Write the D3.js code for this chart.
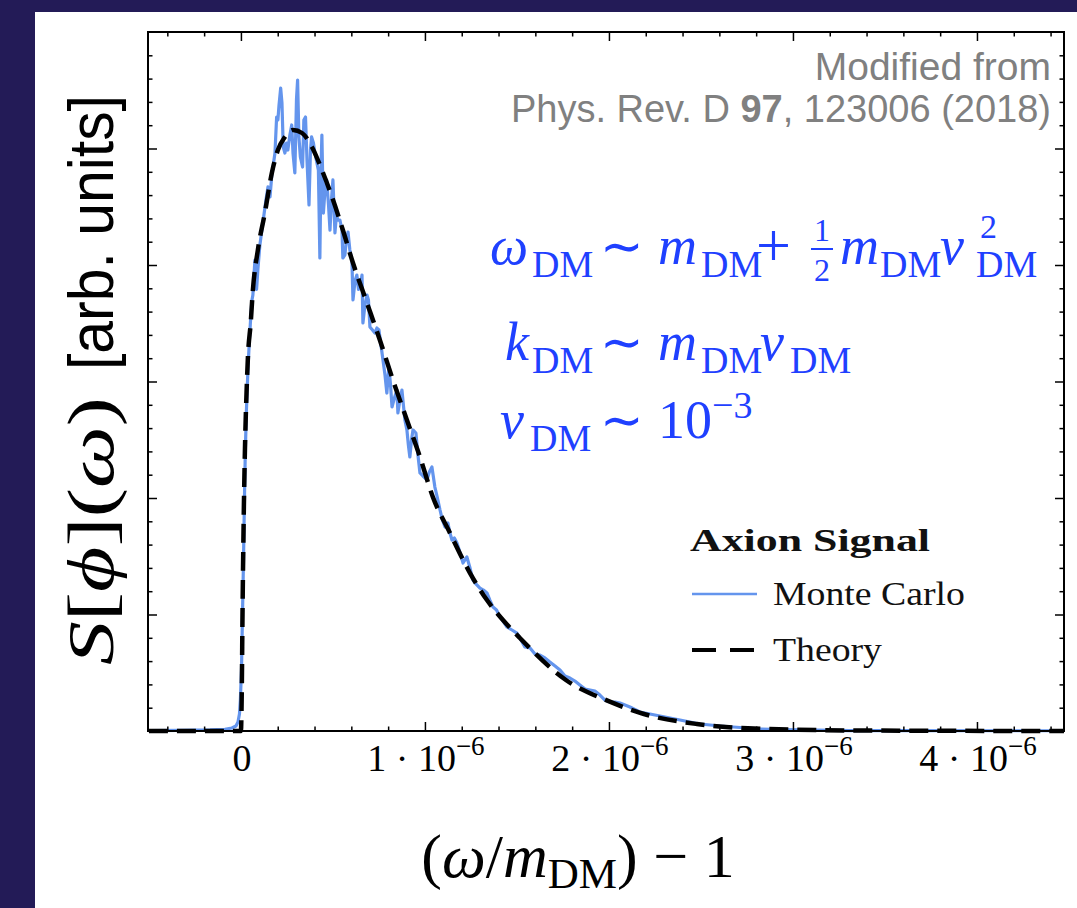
<!DOCTYPE html>
<html><head><meta charset="utf-8">
<script src="https://cdn.jsdelivr.net/npm/d3@7"></script>
<style>body{margin:0;background:#fff}svg{display:block}</style>
</head><body>
<svg id="chart" width="1077" height="908"></svg>
<script>
// ---- data (x in units of 1e-6, y in arbitrary units) ----
const mcX = [-0.5,-0.332,-0.168,-0.087,-0.049,-0.027,-0.016,-0.008,-0.003,0.003,0.008,0.014,0.019,0.024,0.030,0.038,0.046,0.054,0.060,0.065,0.071,0.076,0.085,0.092,0.103,0.114,0.125,0.136,0.147,0.158,0.168,0.185,0.194,0.201,0.207,0.216,0.223,0.230,0.239,0.248,0.255,0.266,0.276,0.283,0.293,0.302,0.308,0.315,0.323,0.335,0.342,0.351,0.359,0.370,0.378,0.384,0.394,0.402,0.413,0.421,0.429,0.435,0.440,0.448,0.457,0.466,0.476,0.484,0.492,0.500,0.511,0.519,0.527,0.538,0.549,0.554,0.565,0.573,0.582,0.592,0.603,0.609,0.620,0.630,0.639,0.647,0.658,0.663,0.674,0.685,0.693,0.701,0.715,0.728,0.739,0.750,0.761,0.772,0.783,0.793,0.804,0.813,0.821,0.834,0.848,0.853,0.864,0.875,0.883,0.891,0.902,0.910,0.918,0.927,0.935,0.951,0.962,0.973,0.989,1.011,1.024,1.038,1.054,1.068,1.082,1.095,1.109,1.125,1.136,1.147,1.160,1.174,1.190,1.207,1.228,1.245,1.261,1.277,1.299,1.318,1.337,1.353,1.370,1.389,1.408,1.427,1.446,1.473,1.500,1.522,1.543,1.571,1.598,1.625,1.652,1.679,1.707,1.734,1.761,1.788,1.815,1.842,1.870,1.897,1.924,1.951,1.978,2.005,2.033,2.060,2.087,2.114,2.168,2.223,2.277,2.332,2.386,2.440,2.495,2.603,2.712,2.821,2.929,3.038,3.310,3.582,4.125,4.473];
const mcY = [0.004,0.006,0.009,0.015,0.026,0.043,0.077,0.146,0.266,0.524,0.953,1.468,1.983,2.412,2.755,3.099,3.356,3.571,3.700,3.742,3.914,4.043,3.790,3.957,4.172,4.300,4.429,4.558,4.670,4.584,4.773,4.961,5.270,5.245,5.373,5.519,5.391,5.013,4.961,5.047,4.987,5.116,5.202,4.961,4.790,5.425,5.588,5.099,4.927,4.841,5.245,5.270,4.901,4.515,4.987,5.099,5.047,4.961,4.876,4.815,4.060,4.815,5.116,4.446,4.644,4.730,4.515,4.300,4.558,4.730,4.275,4.429,4.386,4.386,4.300,4.060,4.086,4.215,4.283,4.129,4.043,3.700,3.863,3.914,3.790,3.811,3.914,3.502,3.657,3.742,3.700,3.468,3.442,3.416,3.459,3.442,3.313,3.185,3.056,2.901,3.124,2.970,2.781,2.858,2.927,2.730,2.841,2.927,2.798,2.670,2.584,2.455,2.352,2.498,2.584,2.558,2.369,2.215,2.189,2.155,2.223,2.266,2.094,2.000,1.897,1.811,1.751,1.785,1.700,1.639,1.657,1.614,1.536,1.442,1.494,1.399,1.296,1.262,1.227,1.210,1.185,1.124,1.064,1.039,0.979,0.936,0.893,0.867,0.841,0.781,0.721,0.712,0.661,0.652,0.627,0.592,0.558,0.524,0.472,0.455,0.429,0.395,0.361,0.352,0.343,0.309,0.266,0.249,0.249,0.240,0.223,0.206,0.163,0.146,0.129,0.112,0.094,0.077,0.060,0.043,0.030,0.017,0.013,0.009,0.004,0.003,0.002,0.002];
const thX = [-0.5,-0.001,0,0.004,0.009,0.016,0.023,0.031,0.038,0.053,0.065,0.092,0.130,0.168,0.201,0.239,0.283,0.332,0.386,0.440,0.495,0.554,0.609,0.685,0.755,0.826,0.902,0.973,1.043,1.136,1.245,1.337,1.424,1.516,1.766,1.995,2.190,2.478,2.859,3.310,4.473];
const thY = [0,0,0,0.266,1.064,1.923,2.498,2.927,3.210,3.500,3.785,4.129,4.446,4.790,4.987,5.099,5.159,5.133,5.013,4.815,4.584,4.300,4.017,3.674,3.356,3.013,2.670,2.352,2.009,1.700,1.356,1.124,0.953,0.798,0.438,0.258,0.146,0.060,0.017,0.005,0];
const xTickValues = [0,1,2,3,4];
const xTickMantissa = ["0","1","2","3","4"];
const xTickExponent = "−6";
const seriesNames = ["Monte Carlo","Theory"];
const legendTitle = "Axion Signal";
const creditLines = ["Modified from","Phys. Rev. D ","97",", 123006 (2018)"];

// ---- setup ----
const svg = d3.select("#chart");
svg.append("rect").attr("x",0).attr("y",0).attr("width",1077).attr("height",908).attr("fill","#231b57");
svg.append("rect").attr("x",35).attr("y",12).attr("width",1042).attr("height",896).attr("fill","#fff");

const L=148,R=1064,T=32,B=731;
const x = d3.scaleLinear().domain([-0.505,4.473]).range([L,R]);
const y = d3.scaleLinear().domain([0,6]).range([B,T]);

const serif = "'Liberation Serif','Times New Roman',serif";
const sans = "'Liberation Sans',Arial,Helvetica,sans-serif";

// ---- data lines ----
const mcData = mcX.map((v,i)=>[v,mcY[i]]);
const thData = thX.map((v,i)=>[v,thY[i]]);
const plot = svg.append("g");
plot.append("path").datum(mcData)
  .attr("d", d3.line().x(d=>x(d[0])).y(d=>y(d[1])).curve(d3.curveLinear))
  .attr("fill","none").attr("stroke","#6495ED").attr("stroke-width",3.2).attr("stroke-linejoin","round");
plot.append("path").datum(thData)
  .attr("d", d3.line().x(d=>x(d[0])).y(d=>y(d[1])).curve(d3.curveMonotoneX))
  .attr("fill","none").attr("stroke","#000").attr("stroke-width",4.5).attr("stroke-dasharray","19,9");

// ---- axes (ticks inward, all four sides) ----
const xMinor = d3.range(-0.4,4.45,0.2).map(v=>+v.toFixed(2)).filter(v=>Math.abs(v-Math.round(v))>1e-6);
const yMinor = d3.range(0.2,6,0.2).map(v=>+v.toFixed(2)).filter(v=>Math.abs(v-Math.round(v))>1e-6);
const yMajor = [1,2,3,4,5];

function addAxis(axisFn, scale, values, size, transform){
  const g = svg.append("g").attr("transform",transform)
    .call(axisFn(scale).tickValues(values).tickSize(size).tickFormat(""));
  g.select(".domain").remove();
  g.selectAll(".tick line").attr("stroke","#000").attr("stroke-width",1.5);
  return g;
}
addAxis(d3.axisTop, x, xTickValues, 9, `translate(0,${B})`);
addAxis(d3.axisTop, x, xMinor, 4.5, `translate(0,${B})`);
addAxis(d3.axisBottom, x, xTickValues, 9, `translate(0,${T})`);
addAxis(d3.axisBottom, x, xMinor, 4.5, `translate(0,${T})`);
addAxis(d3.axisRight, y, yMajor, 9, `translate(${L},0)`);
addAxis(d3.axisRight, y, yMinor, 4.5, `translate(${L},0)`);
addAxis(d3.axisLeft, y, yMajor, 9, `translate(${R},0)`);
addAxis(d3.axisLeft, y, yMinor, 4.5, `translate(${R},0)`);

svg.append("rect").attr("x",L).attr("y",T).attr("width",R-L).attr("height",B-T)
  .attr("fill","none").attr("stroke","#000").attr("stroke-width",2);

// x tick labels
xTickValues.forEach((v,i)=>{
  const t = svg.append("text").attr("x",x(v)+1).attr("y",771).attr("text-anchor","middle")
    .attr("font-family",serif).attr("font-size",38).attr("fill","#000");
  if(v===0){ t.text(xTickMantissa[i]); }
  else {
    t.append("tspan").text(xTickMantissa[i]+" · 10");
    t.append("tspan").attr("dy",-16).attr("font-size",27).text(xTickExponent);
  }
});

// x axis label
{
  const t = svg.append("text").attr("x",578).attr("y",877).attr("text-anchor","middle")
    .attr("font-family",serif).attr("font-size",62).attr("fill","#000");
  t.append("tspan").text("(");
  t.append("tspan").attr("font-style","italic").text("ω");
  t.append("tspan").text("/");
  t.append("tspan").attr("font-style","italic").text("m");
  t.append("tspan").attr("font-size",43).attr("dy",11).text("DM");
  t.append("tspan").attr("dy",-11).text(") − 1");
}

// y axis label
{
  const t = svg.append("text").attr("transform","translate(113,665) rotate(-90)")
    .attr("font-family",serif).attr("font-size",66).attr("fill","#000")
    .attr("textLength",268).attr("lengthAdjust","spacingAndGlyphs");
  t.append("tspan").attr("font-style","italic").text("S");
  t.append("tspan").text("[");
  t.append("tspan").attr("font-style","italic").text("ϕ");
  t.append("tspan").text("](");
  t.append("tspan").attr("font-style","italic").text("ω");
  t.append("tspan").text(")");
  svg.append("text").attr("transform","translate(113,370) rotate(-90)")
    .attr("font-family",sans).attr("font-size",63).attr("fill","#000")
    .attr("textLength",275).attr("lengthAdjust","spacingAndGlyphs").text("[arb. units]");
}

// credit text
svg.append("text").attr("x",1051).attr("y",80).attr("text-anchor","end")
  .attr("font-family",sans).attr("font-size",39).attr("fill","#808080").text(creditLines[0]);
{
  const t = svg.append("text").attr("x",1051).attr("y",122).attr("text-anchor","end")
    .attr("font-family",sans).attr("font-size",38).attr("fill","#808080");
  t.append("tspan").text(creditLines[1]);
  t.append("tspan").attr("font-weight","bold").text(creditLines[2]);
  t.append("tspan").text(creditLines[3]);
}

// blue equations
const eqColor = "#1f40ff";
function eq(parts){
  const t = svg.append("text").attr("font-family",serif).attr("fill",eqColor);
  parts.forEach(p=>{
    t.append("tspan").text(p.t).attr("x",p.x).attr("y",p.y)
      .attr("font-size",p.fs||54).attr("font-style",p.i?"italic":"normal");
  });
  return t;
}
const b1=264, s1=277, b2=360, s2=373, b3=438, s3=451;
eq([{t:"ω",i:1,x:490,y:b1},{t:"DM",fs:38,x:532,y:s1},{t:"∼",fs:52,x:600,y:b1},{t:"m",i:1,x:658,y:b1},
    {t:"DM",fs:38,x:701,y:s1},{t:"+",fs:62,x:756,y:b1+2},
    {t:"m",i:1,x:840,y:b1},{t:"DM",fs:38,x:880,y:s1},{t:"v",i:1,x:940,y:b1},
    {t:"DM",fs:38,x:976,y:s1}]);
// superscript 2 of v
svg.append("text").attr("x",980).attr("y",238).attr("font-family",serif).attr("font-size",34).attr("fill",eqColor).text("2");
// fraction 1/2
svg.append("text").attr("x",822).attr("y",241).attr("text-anchor","middle").attr("font-family",serif).attr("font-size",32).attr("fill",eqColor).text("1");
svg.append("line").attr("x1",811).attr("x2",833).attr("y1",249).attr("y2",249).attr("stroke",eqColor).attr("stroke-width",2);
svg.append("text").attr("x",822).attr("y",281).attr("text-anchor","middle").attr("font-family",serif).attr("font-size",32).attr("fill",eqColor).text("2");
eq([{t:"k",i:1,x:505,y:b2},{t:"DM",fs:38,x:532,y:s2},{t:"∼",fs:52,x:600,y:b2},{t:"m",i:1,x:658,y:b2},
    {t:"DM",fs:38,x:701,y:s2},{t:"v",i:1,x:760,y:b2},{t:"DM",fs:38,x:790,y:s2}]);
eq([{t:"v",i:1,x:500,y:b3},{t:"DM",fs:38,x:530,y:s3},{t:"∼",fs:52,x:600,y:b3},{t:"10",x:658,y:b3},
    {t:"−3",fs:38,x:712,y:418}]);

// legend
svg.append("text").attr("x",690).attr("y",551).attr("font-family",serif).attr("font-weight","bold")
  .attr("font-size",31).attr("textLength",240).attr("lengthAdjust","spacingAndGlyphs").attr("fill","#111").text(legendTitle);
svg.append("line").attr("x1",692).attr("x2",757).attr("y1",594).attr("y2",594).attr("stroke","#6495ED").attr("stroke-width",2.5);
svg.append("line").attr("x1",692).attr("x2",757).attr("y1",650).attr("y2",650).attr("stroke","#000").attr("stroke-width",4).attr("stroke-dasharray","24,14");
svg.append("text").attr("x",773).attr("y",605).attr("font-family",serif).attr("font-size",33)
  .attr("textLength",192).attr("lengthAdjust","spacingAndGlyphs").attr("fill","#111").text(seriesNames[0]);
svg.append("text").attr("x",773).attr("y",661).attr("font-family",serif).attr("font-size",33)
  .attr("textLength",109).attr("lengthAdjust","spacingAndGlyphs").attr("fill","#111").text(seriesNames[1]);
</script>
</body></html>
